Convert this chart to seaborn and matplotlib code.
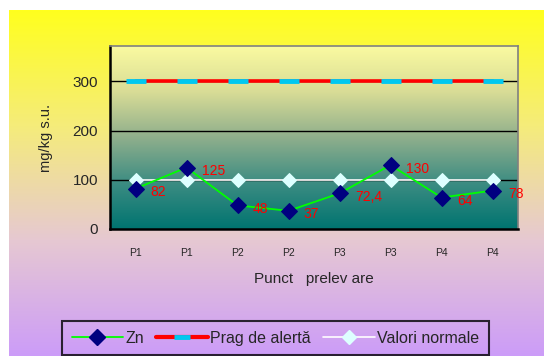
import numpy as np
import pandas as pd
import seaborn as sns
import matplotlib.pyplot as plt
from matplotlib.colors import LinearSegmentedColormap
from matplotlib.lines import Line2D

# data
puncte = ['P1', 'P1', 'P2', 'P2', 'P3', 'P3', 'P4', 'P4']
zn = [82, 125, 48, 37, 72.4, 130, 64, 78]
zn_labels = ['82', '125', '48', '37', '72,4', '130', '64', '78']
prag = [300, 300, 300, 300, 300, 300, 300, 300]
normale = [100, 100, 100, 100, 100, 100, 100, 100]

df = pd.DataFrame({'x': range(len(puncte)), 'Zn': zn, 'Prag': prag, 'Normale': normale})

sns.set_style('white')
plt.rcParams['font.family'] = ['Liberation Sans', 'DejaVu Sans']

fig = plt.figure(figsize=(5.44, 3.56), dpi=100)
fig.patch.set_facecolor('white')

# figure gradient background (yellow -> lavender)
bg = fig.add_axes([9 / 544, 0, 1 - 9 / 544, 1 - 10 / 356], zorder=-2)
bg_cmap = LinearSegmentedColormap.from_list('bg', ['#FFFF1E', '#F5EC7A', '#E6C8D2', '#CC9CF8'])
bg.imshow(np.linspace(0, 1, 256).reshape(-1, 1), aspect='auto', cmap=bg_cmap,
          extent=[0, 1, 0, 1], origin='upper')
bg.axis('off')

ax = fig.add_axes([110 / 544, 1 - 229 / 356, 408 / 544, 183 / 356])
ax.set_xlim(-0.5, 7.5)
ax.set_ylim(0, 372)

# plot area gradient
pa_cmap = LinearSegmentedColormap.from_list('pa', ['#FAFAA0', '#D8DC96', '#8FAF8C', '#3C8C82', '#007470'])
ax.imshow(np.linspace(0, 1, 256).reshape(-1, 1), aspect='auto', cmap=pa_cmap,
          extent=[-0.5, 7.5, 0, 372], origin='upper', zorder=0)

for yv in [100, 200, 300]:
    ax.axhline(yv, color='black', lw=1, zorder=1)

sns.lineplot(data=df, x='x', y='Normale', ax=ax, color='white', lw=1.2, marker='D',
             markersize=7, markerfacecolor='#DDFFFF', markeredgecolor='#DDFFFF', zorder=3)
sns.lineplot(data=df, x='x', y='Prag', ax=ax, color='#FF0000', lw=2.6, zorder=3)
ax.plot(df['x'], df['Prag'], ls='none', marker='_', markersize=14, mew=3.5,
        color='#00C8F0', zorder=4)
sns.lineplot(data=df, x='x', y='Zn', ax=ax, color='#00FF00', lw=1.3, marker='D',
             markersize=8, markerfacecolor='#000080', markeredgecolor='#000080', zorder=5)

for i, (v, t) in enumerate(zip(zn, zn_labels)):
    ax.annotate(t, (i, v), xytext=(11, -2.5), textcoords='offset points',
                color='#FF0000', fontsize=10, va='center', ha='left', zorder=6)

ax.set_xticks(range(len(puncte)))
ax.set_xticklabels(puncte, fontsize=7.5)
ax.set_xticks(np.arange(-0.5, 8, 1), minor=True)
ax.tick_params(axis='x', which='major', length=0, pad=14)
ax.tick_params(axis='x', which='minor', length=4, width=1.5, direction='out', color='black')
ax.set_yticks([0, 100, 200, 300])
ax.tick_params(axis='y', length=5, width=1.5, direction='out', labelsize=11, color='black')
ax.set_xlabel('Punct   prelev are', fontsize=11, labelpad=10)
ax.set_ylabel('mg/kg s.u.', fontsize=10.5, labelpad=14)

for s in ['top', 'right']:
    ax.spines[s].set_color('#808080')
    ax.spines[s].set_linewidth(1.2)
for s in ['left', 'bottom']:
    ax.spines[s].set_color('black')
    ax.spines[s].set_linewidth(1.8)

handles = [
    Line2D([], [], color='#00FF00', lw=1.3, marker='D', markersize=8,
           markerfacecolor='#000080', markeredgecolor='#000080'),
    (Line2D([], [], color='#FF0000', lw=3),
     Line2D([], [], ls='none', marker='_', markersize=12, mew=3.5, color='#00C8F0')),
    Line2D([], [], color='white', lw=1.2, marker='D', markersize=7,
           markerfacecolor='#DDFFFF', markeredgecolor='#DDFFFF'),
]
leg = fig.legend(handles, ['Zn', 'Prag de alertă', 'Valori normale'],
                 loc='upper left', bbox_to_anchor=(62 / 544, 1 - 321 / 356), ncol=3,
                 frameon=True, fancybox=False, fontsize=11.5, handlelength=3.2,
                 handletextpad=0.15, columnspacing=0.8, borderpad=0.6, borderaxespad=0)
leg.get_frame().set_edgecolor('black')
leg.get_frame().set_linewidth(1.5)
leg.get_frame().set_facecolor('none')

fig.savefig('out.png', dpi=100)
